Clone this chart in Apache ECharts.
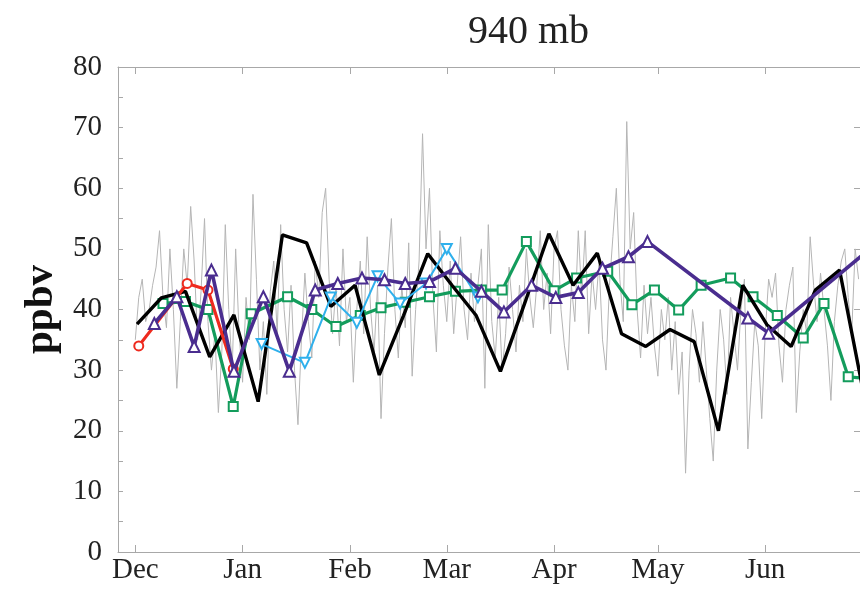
<!DOCTYPE html>
<html>
<head>
<meta charset="utf-8">
<script src="https://cdn.jsdelivr.net/npm/echarts@6.0.0/dist/echarts.min.js"></script>
<style>
  html, body { margin: 0; background: #fff; }
  #chart { width: 860px; height: 589px; }
</style>
</head>
<body>
<div id="chart"></div>
<script>
// x positions are days counted from 1 Dec
const monthTicks = [0, 31, 62, 90, 121, 151, 182];
const monthNames = ['Dec', 'Jan', 'Feb', 'Mar', 'Apr', 'May', 'Jun'];
const yTicks = [0, 10, 20, 30, 40, 50, 60, 70, 80];

// daily values (gray), one per day from day 0
const grayDaily = [
  35, 42, 45, 38, 40, 44, 47,
  53, 42, 37, 50, 40, 27, 38,
  50, 44, 57, 48, 35, 43, 55,
  38, 30, 36, 23, 33, 54, 40,
  30, 50, 36, 28, 42, 35, 59,
  45, 30, 38, 26, 43, 48, 36,
  54, 40, 33, 44, 30, 21, 35,
  46, 38, 32, 48, 42, 56, 60,
  45, 36, 44, 34, 50, 38, 42,
  28, 40, 48, 36, 52, 40, 33,
  44, 22, 36, 47, 55, 40, 32,
  44, 37, 51, 29, 40, 48, 69,
  50, 60, 42, 33, 53, 44, 38,
  48, 36, 44, 52, 40, 35, 46,
  38, 44, 50, 27, 54, 38, 32,
  42, 30, 36, 47, 40, 33, 44,
  38, 50, 42, 37, 44, 53, 40,
  46, 36, 50, 53, 40, 34, 30,
  44, 38, 53, 42, 53, 36, 46,
  40, 48, 35, 30, 44, 52, 60,
  45, 38, 71, 50, 56, 40, 32,
  44, 36, 42, 34, 29, 40, 35,
  42, 30, 38, 26, 33, 13, 30,
  40, 36, 28, 38, 30, 22, 15,
  30, 40, 35, 26, 42, 36, 30,
  40, 45, 17, 28, 38, 34, 22,
  36, 45, 42, 46, 34, 28, 40,
  44, 47, 23, 33, 40, 36, 52,
  44, 38, 46, 40, 34, 25, 38,
  44, 48, 50, 42, 36, 50, 45
];

const blackDays = [0.5, 7.5, 14.5, 21.5, 28.5, 35.5, 42.5, 49.5, 56.5, 63.5, 70.5, 77.5, 84.5, 91.5, 98.5, 105.5,
  112.5, 119.5, 126.5, 133.5, 140.5, 147.5, 154.5, 161.5, 168.5, 175.5, 182.5, 189.5, 196.5, 203.5, 210.5];
const blackVals = [37.6, 41.9, 43, 32.2, 39.1, 24.8, 52.3, 51, 40.5, 44, 29.2, 39, 49.2, 44, 39, 29.8,
  41, 52.5, 44, 49.3, 36, 33.9, 36.7, 34.7, 20, 44, 37.5, 33.9, 43.2, 46.5, 26];

const redDays = [1, 15, 21, 28.3];
const redVals = [34, 44.3, 43.2, 30.2];

const purpleDays = [5.5, 12, 17, 22, 28.5, 37, 44.5, 52, 58.5, 65.5, 72, 78, 85, 92.5, 100, 106.5,
  114.5, 121.5, 128, 135, 142.5, 148, 177, 183, 215];
const purpleVals = [37.7, 42.1, 33.9, 46.5, 29.8, 42.1, 29.8, 43.2, 44.3, 45.2, 44.9, 44.3, 44.6, 46.8, 43, 39.6,
  44, 42, 42.8, 46.8, 48.7, 51.2, 38.6, 36.1, 51.3];

const greenDays = [8, 14.5, 21, 28.3, 33.5, 44, 51, 58, 65, 71, 78, 85, 92.5, 100, 106, 113,
  121, 127.5, 136.5, 143.5, 150, 157, 163.5, 172, 178.5, 185.5, 193, 199, 206, 213];
const greenVals = [41, 41.3, 40, 24, 39.3, 42.1, 40, 37.2, 39, 40.3, 41.2, 42.1, 43, 43.2, 43.2, 51.2,
  43.1, 45.2, 46.3, 40.8, 43.2, 39.9, 44, 45.2, 42.1, 39, 35.3, 41, 28.9, 28.5];

const blueDays = [36.5, 49, 56.5, 64, 70, 76.5, 84, 90, 99];
const blueVals = [34.3, 31.2, 42, 37.8, 45.5, 41, 44.3, 50, 42];

function pairs(xs, ys) {
  return xs.map((x, i) => [x, ys[i]]);
}

const serif = '"Liberation Serif", "Times New Roman", serif';
const axisGray = '#a8a8a8';

var chart = echarts.init(document.getElementById('chart'));

var option = {
  animation: false,
  title: {
    text: '940 mb',
    left: 463,
    top: 7,
    textStyle: { fontFamily: serif, fontSize: 40, fontWeight: 'normal', color: '#222' }
  },
  grid: { left: 118, right: -2, top: 67, bottom: 37 },
  xAxis: [
    {
      type: 'value',
      min: -5,
      max: 209.4,
      position: 'bottom',
      splitLine: { show: false },
      axisLine: { show: true, onZero: false, lineStyle: { color: axisGray, width: 1 } },
      axisTick: { show: true, inside: true, length: 7, customValues: monthTicks, lineStyle: { color: axisGray } },
      axisLabel: {
        customValues: monthTicks,
        formatter: function (v) { return monthNames[monthTicks.indexOf(v)]; },
        fontFamily: serif, fontSize: 29, color: '#222', margin: 4
      }
    },
    {
      type: 'value',
      min: -5,
      max: 209.4,
      position: 'top',
      splitLine: { show: false },
      axisLine: { show: true, onZero: false, lineStyle: { color: axisGray, width: 1 } },
      axisTick: { show: true, inside: true, length: 7, customValues: monthTicks, lineStyle: { color: axisGray } },
      axisLabel: { show: false }
    }
  ],
  yAxis: [
    {
      type: 'value',
      min: 0,
      max: 80,
      interval: 5,
      position: 'left',
      name: 'ppbv',
      nameLocation: 'middle',
      nameRotate: 90,
      nameGap: 56,
      nameTextStyle: { fontFamily: serif, fontSize: 41, fontWeight: 'bold', color: '#111' },
      splitLine: { show: false },
      axisLine: { show: true, onZero: false, lineStyle: { color: axisGray, width: 1 } },
      axisTick: { show: true, inside: true, length: 5, lineStyle: { color: axisGray } },
      axisLabel: {
        formatter: function (v) { return yTicks.indexOf(v) >= 0 ? String(v) : ''; },
        fontFamily: serif, fontSize: 29, color: '#222', margin: 16
      }
    },
    {
      type: 'value',
      min: 0,
      max: 80,
      interval: 10,
      position: 'right',
      splitLine: { show: false },
      axisLine: { show: true, onZero: false, lineStyle: { color: axisGray, width: 1 } },
      axisTick: { show: true, inside: true, length: 6, lineStyle: { color: axisGray } },
      axisLabel: { show: false }
    }
  ],
  series: [
    {
      name: 'daily',
      type: 'line',
      data: grayDaily.map((v, i) => [i, v]),
      showSymbol: false,
      lineStyle: { color: '#b5b5b5', width: 1 },
      z: 1
    },
    {
      name: 'green',
      type: 'line',
      data: pairs(greenDays, greenVals),
      symbol: 'emptyRect',
      symbolSize: 9,
      itemStyle: { color: '#139c5c', borderWidth: 1 },
      lineStyle: { color: '#139c5c', width: 3.2 },
      z: 2
    },
    {
      name: 'black',
      type: 'line',
      data: pairs(blackDays, blackVals),
      showSymbol: false,
      lineStyle: { color: '#000', width: 3.4 },
      z: 3
    },
    {
      name: 'lightblue',
      type: 'line',
      data: pairs(blueDays, blueVals),
      symbol: 'emptyTriangle',
      symbolRotate: 180,
      symbolSize: 10,
      itemStyle: { color: '#2fb0ec', borderWidth: 1 },
      lineStyle: { color: '#2fb0ec', width: 2 },
      z: 4
    },
    {
      name: 'red',
      type: 'line',
      data: pairs(redDays, redVals),
      symbol: 'emptyCircle',
      symbolSize: 9,
      itemStyle: { color: '#ee2a1e', borderWidth: 1 },
      lineStyle: { color: '#ee2a1e', width: 3.2 },
      z: 5
    },
    {
      name: 'purple',
      type: 'line',
      data: pairs(purpleDays, purpleVals),
      symbol: 'emptyTriangle',
      symbolSize: 11,
      itemStyle: { color: '#4a2d8f', borderWidth: 1.5 },
      lineStyle: { color: '#4a2d8f', width: 3.6 },
      z: 6
    }
  ]
};

option && chart.setOption(option);
</script>
</body>
</html>
